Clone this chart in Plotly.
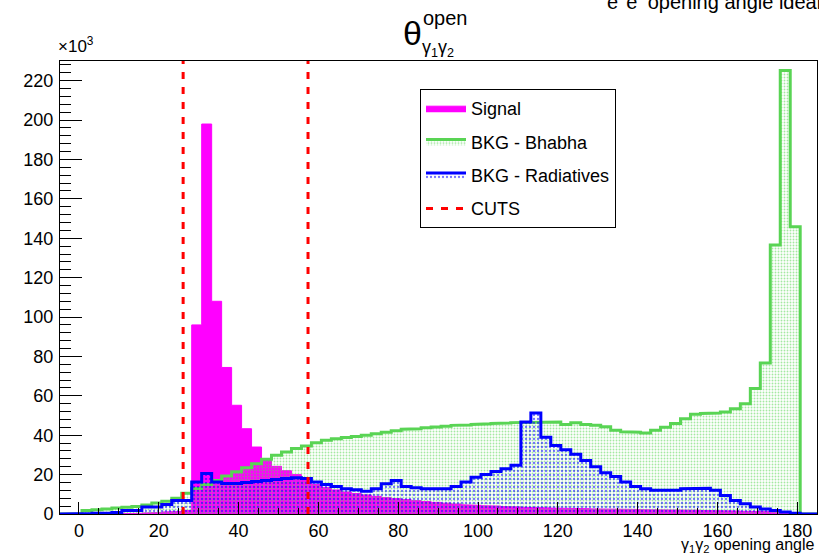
import numpy as np
import plotly.graph_objects as go

# ---- data (values in units of 10^3 entries), 72 bins of 2.5 deg ----
BIN_START = 0.75
BIN_WIDTH = 2.5
X_RANGE = [-4.76, 184.96]
Y_RANGE = [0, 230]

signal = [0, 0, 0, 0, 0.1, 0.3, 0.5, 0.8, 1.0, 1.3, 1.8,
          96, 198, 108, 74.4, 55.2, 43.3, 34, 27.5, 24.2, 22, 20,
          17, 15, 13.5, 12.2, 11.2, 10.4, 9.7, 9.0, 8.4, 7.8, 7.3,
          6.8, 6.3, 5.9, 5.5, 5.1, 4.7, 4.4, 4.2, 4.0, 3.8, 3.6,
          3.4, 3.3, 3.1, 3.0, 2.9, 2.8, 2.7, 2.6, 2.5, 2.5, 2.4,
          2.3, 2.2, 2.2, 2.1, 2.0, 2.0, 1.9, 1.8, 1.7, 1.6, 1.5,
          1.4, 1.3, 1.2, 1.0, 0.8, 0.5]

bhabha = [1.8, 2.2, 2.6, 3.0, 3.4, 3.8, 4.6, 5.6, 6.5, 8.0, 10.5,
          13.0, 15.0, 17.0, 19.3, 21.5, 23.5, 25.5, 27.8, 29.8, 31.5,
          33.2, 34.5, 36.2, 37.4, 38.2, 38.8, 39.3, 40.0, 40.8, 41.5,
          42.3, 43.0, 43.3, 43.8, 44.2, 44.6, 45.0, 45.2, 45.5, 45.8,
          46.0, 46.2, 46.4, 46.5, 46.5, 46.7, 46.7, 45.5, 46.3, 45.5,
          45.0, 44.3, 42.5, 41.8, 41.5, 41.1, 42.5, 44.1, 45.9, 48.4,
          50.6, 51.0, 51.3, 51.8, 53.5, 56.0, 63.7, 76.7, 136.6, 225.2,
          145.9]

radiatives = [0.3, 0.4, 0.5, 0.8, 1.8, 1.8, 3.5, 3.5, 4.8, 6.9, 6.9,
              16.2, 20.6, 16.2, 15.5, 15.5, 16.0, 16.5, 17.0, 17.5, 18.0,
              18.4, 18.0, 16.2, 15.0, 14.0, 12.8, 12.3, 11.6, 12.8, 15.4,
              17.0, 14.0, 13.3, 12.8, 12.8, 12.8, 14.0, 16.2, 18.7, 20.1,
              21.6, 23.0, 24.7, 46.7, 51.3, 39.0, 34.8, 32.6, 30.3, 27.2,
              24.0, 21.0, 19.0, 16.2, 14.0, 12.8, 12.0, 12.0, 12.0, 12.8,
              13.1, 13.1, 12.0, 9.4, 6.9, 5.2, 3.5, 2.6, 1.8, 1.0, 0.4]

cuts = [26.1, 57.4]

names = ["Signal", "BKG - Bhabha", "BKG - Radiatives", "CUTS"]

MAGENTA = "rgb(255,0,255)"
GREEN = "rgb(89,212,84)"
BLUE = "rgb(0,0,255)"
RED = "rgb(255,0,0)"
FONT = "Liberation Sans, Arial, sans-serif"


def step_xy(values):
    edges = BIN_START + BIN_WIDTH * np.arange(len(values) + 1)
    xs = [X_RANGE[0], edges[0]]
    ys = [0, 0]
    for i, v in enumerate(values):
        xs += [edges[i], edges[i + 1]]
        ys += [v, v]
    xs += [edges[-1], X_RANGE[1]]
    ys += [0, 0]
    return xs, ys


fig = go.Figure()

x, y = step_xy(signal)
fig.add_trace(go.Scatter(
    x=x, y=y, mode="lines", name=names[0], legendgroup="a",
    line=dict(color=MAGENTA, width=1), fill="tozeroy", fillcolor=MAGENTA))

x, y = step_xy(bhabha)
fig.add_trace(go.Scatter(
    x=x, y=y, mode="lines", name=names[1], legendgroup="b",
    line=dict(color=GREEN, width=3), fill="tozeroy",
    fillcolor="rgba(0,0,0,0)",
    fillpattern=dict(shape=".", fgcolor=GREEN, bgcolor="rgba(0,0,0,0)",
                     size=3, solidity=0.3, fgopacity=0.55)))

x, y = step_xy(radiatives)
fig.add_trace(go.Scatter(
    x=x, y=y, mode="lines", name=names[2], legendgroup="c",
    line=dict(color=BLUE, width=3), fill="tozeroy",
    fillcolor="rgba(0,0,0,0)",
    fillpattern=dict(shape=".", fgcolor=BLUE, bgcolor="rgba(0,0,0,0)",
                     size=4, solidity=0.25, fgopacity=0.55)))

cx, cy = [], []
for c in cuts:
    cx += [c, c, None]
    cy += [Y_RANGE[0], Y_RANGE[1], None]
fig.add_trace(go.Scatter(
    x=cx, y=cy, mode="lines", name=names[3], legendgroup="d",
    line=dict(color=RED, width=3, dash="7px,8px")))

W, H = 819, 554
L, R, T, B = 60, 2, 61, 40
PW, PH = W - L - R, H - T - B


def px(xp):
    return (xp - L) / PW


def py(yp):
    return (H - B - yp) / PH


fig.update_layout(
    width=W, height=H,
    margin=dict(l=L, r=R, t=T, b=B),
    paper_bgcolor="white", plot_bgcolor="white",
    font=dict(family=FONT, size=18, color="black"),
    showlegend=True,
    legend=dict(x=px(420), y=py(89), xanchor="left", yanchor="top",
                bgcolor="white", bordercolor="black", borderwidth=1,
                font=dict(size=18), itemwidth=40, tracegroupgap=7,
                traceorder="grouped"),
    xaxis=dict(range=X_RANGE, showgrid=False, zeroline=False,
               showline=True, linecolor="black", linewidth=1, mirror=True,
               ticks="inside", ticklen=12, tickcolor="black", tickwidth=1,
               tick0=0, dtick=20,
               minor=dict(ticks="inside", ticklen=6, dtick=5,
                          tickcolor="black", showgrid=False),
               tickfont=dict(size=18)),
    yaxis=dict(range=Y_RANGE, showgrid=False, zeroline=False,
               showline=True, linecolor="black", linewidth=1, mirror=True,
               ticks="inside", ticklen=22, tickcolor="black", tickwidth=1,
               tick0=0, dtick=20, ticklabelstandoff=2,
               minor=dict(ticks="inside", ticklen=11, dtick=4,
                          tickcolor="black", showgrid=False),
               tickfont=dict(size=18)),
)

ann = [
    dict(text="θ", x=px(412), y=py(33), xanchor="center", yanchor="middle",
         font=dict(size=34)),
    dict(text="open", x=px(421), y=py(18), xanchor="left", yanchor="middle",
         font=dict(size=20)),
    dict(text="γ<sub>1</sub>γ<sub>2</sub>", x=px(420), y=py(48),
         xanchor="left", yanchor="middle", font=dict(size=18)),
    dict(text="×10<sup>3</sup>", x=px(56), y=py(45), xanchor="left",
         yanchor="middle", font=dict(size=17)),
    dict(text="γ<sub>1</sub>γ<sub>2</sub> opening angle", x=px(817),
         y=py(545), xanchor="right", yanchor="middle", font=dict(size=16)),
    dict(text="e<sup>+</sup>e<sup>-</sup> opening angle ideal", x=px(605),
         y=py(15), xanchor="left", yanchor="bottom", font=dict(size=20)),
]
for a in ann:
    a.update(xref="paper", yref="paper", showarrow=False)
fig.update_layout(annotations=ann)

fig.write_html("out.html")
